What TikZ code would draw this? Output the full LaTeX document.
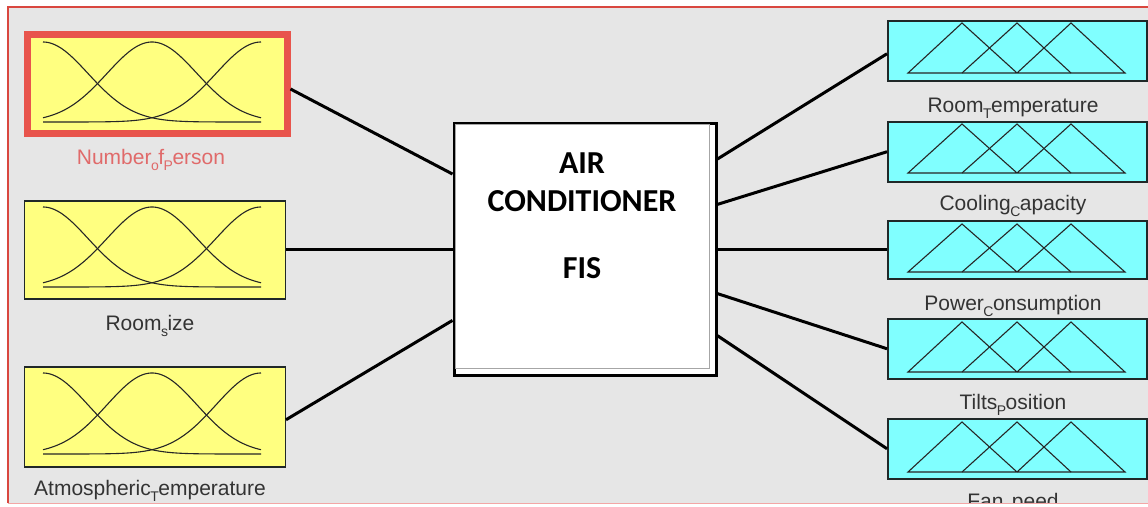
\documentclass[tikz,border=0pt]{standalone}
\usepackage{fontspec}
\setmainfont{Liberation Sans}
\newfontfamily\calfont{Carlito}
\usetikzlibrary{calc}
\definecolor{bg}{HTML}{E6E6E6}
\definecolor{frred}{HTML}{D9473F}
\definecolor{frpink}{HTML}{F4A6A6}
\definecolor{selred}{HTML}{E8544C}
\definecolor{lblred}{HTML}{E06A6A}
\definecolor{inyel}{HTML}{FFFF80}
\definecolor{outcyan}{HTML}{80FFFF}
\definecolor{boxline}{HTML}{202828}
\newcommand{\sbs}[1]{\kern-0.5pt\raisebox{-0.32em}{\fontsize{14}{14}\selectfont #1}\kern-0.5pt}
\tikzset{
  inbox/.style={draw=boxline, line width=1.5pt, fill=inyel, anchor=north west, inner sep=0pt, minimum width=261pt},
  outbox/.style={draw=boxline, line width=1.5pt, fill=outcyan, anchor=north west, inner sep=0pt, minimum width=259pt, minimum height=60pt},
  lbl/.style={font=\fontsize{21}{23}\selectfont, text=black!80, inner sep=0pt, anchor=base},
  fisbox/.style={draw=black, line width=3pt, fill=white, inner sep=0pt, minimum width=262pt, minimum height=252pt},
  fistext/.style={font=\calfont\bfseries\fontsize{32}{34}\selectfont, inner sep=0pt},
  conn/.style={line width=3pt, black},
  mf/.style={line width=1.1pt, black!85}
}
\newcommand{\gcurves}[2]{%
  \foreach \cc in {43,152,261}{%
    \draw[mf, domain=43:261, samples=90, smooth] plot (\x,{#2-(#2-#1)*exp(-0.5*((\x-\cc)/45)^2)});
  }}
\newcommand{\tris}[2]{%
  \draw[mf, line join=miter] (908,#2) -- (962,#1) -- (1017,#2) -- (1071,#1) -- (1125,#2) -- cycle;
  \draw[mf] (962,#2) -- (1017,#1) -- (1071,#2);
}
\begin{document}
\begin{tikzpicture}[x=1pt,y=-1pt]
\useasboundingbox (0,0) rectangle (1148,506);
\fill[white] (0,0) rectangle (1148,506);
\fill[bg] (8,7) rectangle (1148,503);
\draw[frred, line width=1.3pt] (8,503) -- (8,7) -- (1148,7);

% input boxes
\node[inbox, draw=selred, line width=7pt, minimum width=260pt, minimum height=99pt] (in1) at (23.5,31) {};
\node[inbox, minimum height=98pt] (in2) at (23.5,200) {};
\node[inbox, minimum height=100pt] (in3) at (23.5,366) {};
\gcurves{42}{122}
\gcurves{207}{287}
\gcurves{373}{454}

\node[lbl, text=lblred] (l1) at (151,164) {Number\sbs{o}f\sbs{P}erson};
\node[lbl] (l2) at (150,330) {Room\sbs{s}ize};
\node[lbl] (l3) at (150,495) {Atmospheric\sbs{T}emperature};

% output boxes
\node[outbox] (o1) at (887,20) {};
\node[outbox] (o2) at (887,121) {};
\node[outbox, minimum height=58pt] (o3) at (887,220) {};
\node[outbox] (o4) at (887,318) {};
\node[outbox] (o5) at (887,418) {};
\tris{23}{73}
\tris{124}{173}
\tris{224}{272}
\tris{322}{372}
\tris{422}{472}

\node[lbl] (r1) at (1013,112) {Room\sbs{T}emperature};
\node[lbl] (r2) at (1013,210) {Cooling\sbs{C}apacity};
\node[lbl] (r3) at (1013,310) {Power\sbs{C}onsumption};
\node[lbl] (r4) at (1013,409) {Tilts\sbs{P}osition};
\begin{scope}
\clip (0,0) rectangle (1148,502);
\node[lbl] (r5) at (1013,508) {Fan\sbs{S}peed};
\end{scope}
\draw[frpink, line width=1.5pt] (8,503.5) -- (1148,503.5);

% FIS box
\node[fisbox] (fis) at (585,249) {};
\draw[gray!70, line width=0.8pt] ($(fis.north west)+(3,3)$) rectangle ($(fis.south east)+(-8,-8)$);
\node[fistext] (t1) at (582,163) {AIR};
\node[fistext] (t2) at (582,201) {CONDITIONER};
\node[fistext] (t3) at (582,268) {FIS};

% connectors
\draw[conn] ([yshift=-5pt]in1.east) -- ($(fis.north west)!0.206!(fis.south west)$);
\draw[conn] (in2.east) -- (in2.east -| fis.west);
\draw[conn] ([yshift=-3pt]in3.east) -- ($(fis.north west)!0.78!(fis.south west)$);
\draw[conn] ($(fis.north east)!0.147!(fis.south east)$) -- ([yshift=-3pt]o1.west);
\draw[conn] ($(fis.north east)!0.325!(fis.south east)$) -- (o2.west);
\draw[conn] (o3.west -| fis.east) -- (o3.west);
\draw[conn] ($(fis.north east)!0.675!(fis.south east)$) -- (o4.west);
\draw[conn] ($(fis.north east)!0.84!(fis.south east)$) -- (o5.west);
\end{tikzpicture}
\end{document}
